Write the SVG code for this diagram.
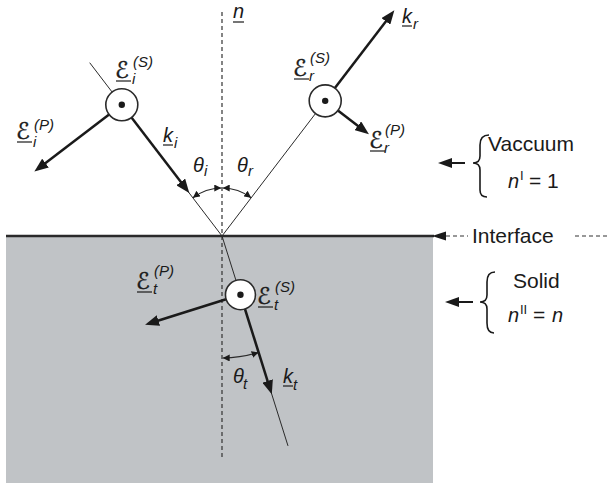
<svg xmlns="http://www.w3.org/2000/svg" width="609" height="483" viewBox="0 0 609 483">
<style>
.t{font-family:"Liberation Sans",Arial,sans-serif;font-size:21px;fill:#1a1a1a}
.it{font-family:"Liberation Sans",Arial,sans-serif;font-style:italic;font-size:20px;fill:#1a1a1a}
.sc{font-family:"DejaVu Sans",sans-serif;font-size:23px;fill:#1a1a1a;stroke:#1a1a1a;stroke-width:0.4}
.sm{font-family:"Liberation Sans",Arial,sans-serif;font-style:italic;font-size:15px;fill:#1a1a1a}
.smu{font-family:"Liberation Sans",Arial,sans-serif;font-size:13px;fill:#1a1a1a}
.thin{stroke:#2a2a2a;stroke-width:1;fill:none}
.thick{stroke:#1a1a1a;stroke-width:2.5;fill:none;marker-end:url(#ah)}
.arc{stroke:#2a2a2a;stroke-width:1.2;fill:none;marker-start:url(#sa);marker-end:url(#sa)}
.ul{stroke:#1a1a1a;stroke-width:1.2}
.node circle.o{fill:#fff;stroke:#2a2a2a;stroke-width:1.6}
.node circle.d{fill:#1a1a1a}
.br{stroke:#1a1a1a;stroke-width:1.6;fill:none}
.dash{stroke:#777;stroke-width:1.4;stroke-dasharray:4 3;fill:none}
.norm{stroke:#333;stroke-width:1.2;stroke-dasharray:4 3;fill:none}
</style>
<defs>
<marker id="ah" markerUnits="userSpaceOnUse" markerWidth="15" markerHeight="11" refX="4" refY="5.5" orient="auto">
<path d="M0,0 L14,5.5 L0,11 z" fill="#1a1a1a"/>
</marker>
<marker id="sa" markerUnits="userSpaceOnUse" markerWidth="8" markerHeight="7" refX="7" refY="3.5" orient="auto-start-reverse">
<path d="M0,0 L7,3.5 L0,7 z" fill="#1a1a1a"/>
</marker>
</defs>

<g id="solid-medium">
<rect x="6" y="236" width="427" height="247" fill="#c0c3c6"/>
<line x1="6" y1="236" x2="434" y2="236" stroke="#2a2a2a" stroke-width="2.6"/>
</g>

<g id="connectors">
<line class="norm" x1="222" y1="12" x2="222" y2="460"/>
<line class="thin" x1="89.7" y1="62.7" x2="222" y2="236"/>
<line class="thin" x1="222" y1="236" x2="325.2" y2="100.85"/>
<line class="thin" x1="222" y1="236" x2="288" y2="445.9"/>
<line class="thick" x1="131.5" y1="117.5" x2="183.2" y2="185.1"/>
<line class="thick" x1="109.1" y1="114.5" x2="42.3" y2="165.5"/>
<line class="thick" x1="334.9" y1="88.1" x2="388.3" y2="18.2"/>
<line class="thick" x1="337.9" y1="110.6" x2="361.0" y2="128.2"/>
<line class="thick" x1="244.95" y1="309.0" x2="268.8" y2="384.8"/>
<line class="thick" x1="226.1" y1="299.2" x2="154.6" y2="321.7"/>
<path class="arc" d="M192.9,197.8 A48,48 0 0 1 221.3,188"/>
<path class="arc" d="M222.7,188 A48,48 0 0 1 251.1,197.8"/>
<path class="arc" d="M222.7,358 A122,122 0 0 0 258.6,352.4"/>
</g>

<g id="node-Ei" class="node">
<circle class="o" cx="121.8" cy="104.8" r="16"/>
<circle class="d" cx="121.8" cy="104.8" r="3.2"/>
</g>
<g id="node-Er" class="node">
<circle class="o" cx="325.2" cy="100.85" r="16"/>
<circle class="d" cx="325.2" cy="100.85" r="3.2"/>
</g>
<g id="node-Et" class="node">
<circle class="o" cx="240.45" cy="294.7" r="15"/>
<circle class="d" cx="240.45" cy="294.7" r="3.2"/>
</g>

<g id="labels">
<text class="it" x="233" y="18">n</text><line class="ul" x1="233" y1="22" x2="244" y2="22"/>
<text class="sc" x="115" y="78">ℰ</text><line class="ul" x1="116" y1="81" x2="131" y2="81"/>
<text class="sm" x="132" y="84">i</text><text class="sm" x="133" y="67">(S)</text>
<text class="sc" x="16" y="139">ℰ</text><line class="ul" x1="17" y1="142" x2="32" y2="142"/>
<text class="sm" x="33" y="147">i</text><text class="sm" x="34" y="130">(P)</text>
<text class="it" x="163" y="142">k</text><line class="ul" x1="163" y1="145" x2="173" y2="145"/>
<text class="sm" x="174" y="148">i</text>
<text class="it" x="193" y="172">θ</text><text class="sm" x="204" y="176">i</text>
<text class="it" x="237" y="172">θ</text><text class="sm" x="248" y="176">r</text>
<text class="sc" x="293" y="76">ℰ</text><line class="ul" x1="294" y1="79" x2="309" y2="79"/>
<text class="sm" x="309" y="81">r</text><text class="sm" x="310" y="63">(S)</text>
<text class="sc" x="369" y="148">ℰ</text><line class="ul" x1="370" y1="151" x2="385" y2="151"/>
<text class="sm" x="384" y="153">r</text><text class="sm" x="385" y="135">(P)</text>
<text class="it" x="402" y="23">k</text><line class="ul" x1="402" y1="26" x2="412" y2="26"/>
<text class="sm" x="413" y="29">r</text>
<text class="sc" x="136" y="289">ℰ</text><line class="ul" x1="137" y1="292" x2="152" y2="292"/>
<text class="sm" x="153" y="294">t</text><text class="sm" x="154" y="276">(P)</text>
<text class="sc" x="257" y="304">ℰ</text><line class="ul" x1="258" y1="307" x2="273" y2="307"/>
<text class="sm" x="274" y="310">t</text><text class="sm" x="275" y="292">(S)</text>
<text class="it" x="233" y="383">θ</text><text class="sm" x="243" y="389">t</text>
<text class="it" x="283" y="383">k</text><line class="ul" x1="283" y1="386" x2="293" y2="386"/>
<text class="sm" x="293" y="390">t</text>
</g>

<g id="vacuum-note">
<line x1="465" y1="163" x2="450" y2="163" stroke="#1a1a1a" stroke-width="2"/>
<path d="M438,163 L452,158 L452,168 z" fill="#1a1a1a"/>
<path class="br" d="M489,135 C482,135 480,139 480,145 L480,156 C480,161 477,163 473,163 C477,163 480,165 480,170 L480,190 C480,195 482,197 487,197"/>
<text class="t" x="488" y="151">Vaccuum</text>
<text class="it" x="508" y="188">n</text><text class="smu" x="520" y="180">I</text>
<text class="t" x="529" y="188">= 1</text>
</g>

<g id="interface-note">
<path d="M432,236 L446,231.5 L446,240.5 z" fill="#1a1a1a"/>
<line class="dash" x1="446" y1="236" x2="468" y2="236"/>
<text class="t" x="472" y="243">Interface</text>
<line class="dash" x1="575" y1="236" x2="607" y2="236"/>
</g>

<g id="solid-note">
<line x1="473" y1="302" x2="457" y2="302" stroke="#1a1a1a" stroke-width="2"/>
<path d="M445,302 L459,297 L459,307 z" fill="#1a1a1a"/>
<path class="br" d="M495,272 C489,272 487,276 487,282 L487,295 C487,300 484,302 480,302 C484,302 487,304 487,309 L487,323 C487,329 489,333 494,333"/>
<text class="t" x="513" y="288">Solid</text>
<text class="it" x="508" y="322">n</text><text class="smu" x="520" y="314">II</text>
<text class="t" x="533" y="322">=</text><text class="it" x="552" y="322">n</text>
</g>
</svg>
